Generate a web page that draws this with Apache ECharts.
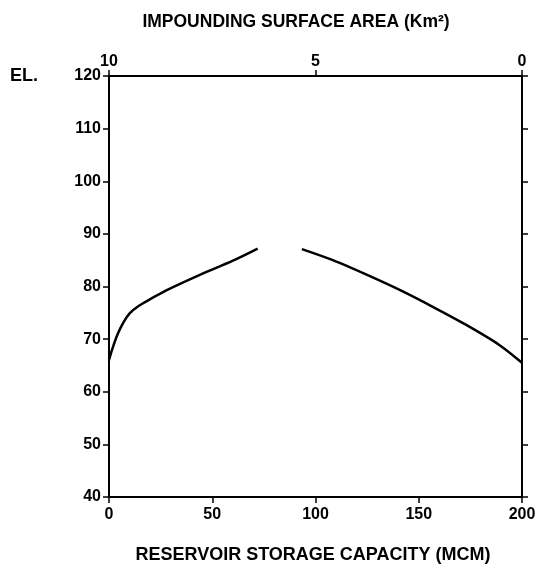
<!DOCTYPE html>
<html>
<head>
<meta charset="utf-8">
<script src="https://cdn.jsdelivr.net/npm/echarts@6/dist/echarts.min.js"></script>
<style>html,body{margin:0;padding:0;background:#fff;}#c{width:541px;height:569px;}</style>
</head>
<body>
<div id="c"></div>
<script>
// Storage capacity curve (MCM vs elevation)
const storageMCM = [0, 1.5, 4, 7, 10, 14, 20, 28, 44, 60, 72];
const storageEl  = [66, 68, 70.8, 73.2, 74.9, 76.2, 77.6, 79.3, 82.2, 84.9, 87.2];
// Surface area curve (Km2 vs elevation)
const areaKm2 = [5.33, 4.58, 3.75, 2.95, 2.15, 1.35, 0.55, 0];
const areaEl  = [87.1, 85, 82.2, 79.3, 76.1, 72.7, 68.9, 65.5];
// Axis labels
const bottomTitle = 'RESERVOIR STORAGE CAPACITY (MCM)';
const topTitle = 'IMPOUNDING SURFACE AREA (Km²)';
const yTitle = 'EL.';

const FONT = 'Liberation Sans';
const lbl = {color:'#000', fontFamily:FONT, fontWeight:'bold', fontSize:16};
const axLine = {show:true, lineStyle:{color:'#000', width:2}};
const tick = {show:true, inside:false, length:6, lineStyle:{color:'#000', width:1.5}};

const chart = echarts.init(document.getElementById('c'), null, {renderer:'canvas'});
chart.setOption({
  backgroundColor:'#fff',
  animation:false,
  grid:{left:109, right:19, top:76, bottom:72, containLabel:false},
  title:[
    {text:topTitle, left:291, top:8, textAlign:'center',
     textStyle:{color:'#000', fontFamily:FONT, fontWeight:'bold', fontSize:17.5}},
    {text:bottomTitle, left:308, top:541, textAlign:'center',
     textStyle:{color:'#000', fontFamily:FONT, fontWeight:'bold', fontSize:18}}
  ],
  graphic:[
    {type:'text', left:10, top:67, style:{text:yTitle, fill:'#000', font:'bold 18px "Liberation Sans"'}}
  ],
  xAxis:[
    {type:'value', position:'bottom', min:0, max:200, interval:50,
     axisLine:axLine, axisTick:tick, splitLine:{show:false},
     axisLabel:Object.assign({margin:10}, lbl)},
    {type:'value', position:'top', min:0, max:10, interval:5, inverse:true,
     axisLine:axLine, axisTick:tick, splitLine:{show:false},
     axisLabel:Object.assign({margin:6}, lbl)}
  ],
  yAxis:[
    {type:'value', position:'left', min:40, max:120, interval:10,
     axisLine:axLine, axisTick:tick, splitLine:{show:false},
     axisLabel:Object.assign({margin:8}, lbl)},
    {type:'value', position:'right', min:40, max:120, interval:10,
     axisLine:axLine, axisTick:tick, splitLine:{show:false},
     axisLabel:{show:false}}
  ],
  series:[
    {type:'line', xAxisIndex:0, yAxisIndex:0, smooth:0.3, symbol:'none',
     lineStyle:{color:'#000', width:2.5},
     data:storageMCM.map((v,i)=>[v, storageEl[i]])},
    {type:'line', xAxisIndex:1, yAxisIndex:0, smooth:0.3, symbol:'none',
     lineStyle:{color:'#000', width:2.5},
     data:areaKm2.map((v,i)=>[v, areaEl[i]])}
  ]
});
</script>
</body>
</html>
